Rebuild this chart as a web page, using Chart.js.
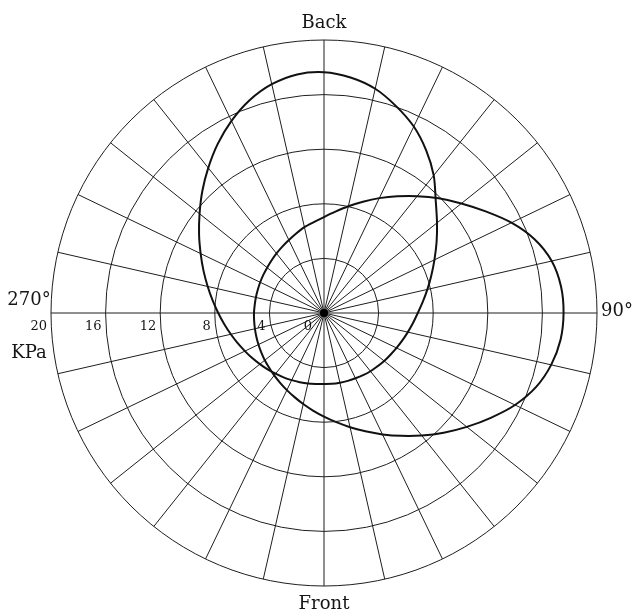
<!DOCTYPE html>
<html>
<head>
<meta charset="utf-8">
<script src="https://cdn.jsdelivr.net/npm/chart.js@4/dist/chart.umd.min.js"></script>
<style>
  html, body { margin: 0; padding: 0; background: #fff; }
  canvas { display: block; }
</style>
</head>
<body>
<canvas id="polar" width="633" height="614"></canvas>
<script>
// Bearings around the plot, clockwise from Back (0°); a spoke is drawn on every second one.
const bearings = Array.from({ length: 56 }, (_, i) => (i * 360 / 56).toFixed(1) + '°');

// Pressure (KPa) at each bearing — elongated lobe toward Back.
const backLobe = [
  17.64, 17.36, 16.85, 16.04, 15.16, 14.07, 12.89, 11.58,
  10.59,  9.74,  8.98,  8.33,  7.77,  7.28,  6.87,  6.56,
   6.30,  6.08,  5.90,  5.75,  5.64,  5.53,  5.46,  5.38,
   5.31,  5.27,  5.24,  5.22,  5.20,  5.23,  5.30,  5.37,
   5.46,  5.57,  5.69,  5.84,  6.01,  6.21,  6.43,  6.70,
   7.00,  7.35,  7.75,  8.21,  8.74,  9.35, 10.03, 10.81,
  11.66, 12.61, 13.60, 14.63, 15.62, 16.51, 17.19, 17.59
];

// Pressure (KPa) at each bearing — lobe toward 90°.
const sideLobe = [
   7.03,  7.47,  8.02,  8.64,  9.34, 10.10, 10.95, 11.88,
  12.87, 13.99, 15.24, 16.34, 17.11, 17.47, 17.55, 17.44,
  17.07, 16.45, 15.53, 14.43, 13.38, 12.40, 11.48, 10.63,
   9.87,  9.18,  8.58,  8.05,  7.59,  7.19,  6.84,  6.53,
   6.27,  6.04,  5.85,  5.68,  5.55,  5.43,  5.33,  5.25,
   5.19,  5.15,  5.13,  5.11,  5.12,  5.14,  5.19,  5.25,
   5.33,  5.44,  5.58,  5.74,  5.93,  6.17,  6.45,  6.70
];

const radialTicks = [0, 4, 8, 12, 16, 20];
const directionLabels = { top: 'Back', right: '90°', bottom: 'Front', left: '270°' };
const unitLabel = 'KPa';

const SERIF = '"DejaVu Serif", "Liberation Serif", serif';
const INK = '#151515';

// Hub dot, scale numbers along the 270° axis, and the direction captions.
const annotations = {
  id: 'annotations',
  afterDatasetsDraw(chart) {
    const s = chart.scales.r;
    const ctx = chart.ctx;
    const cx = s.xCenter, cy = s.yCenter, R = s.drawingArea;
    ctx.save();

    ctx.fillStyle = '#000';
    ctx.beginPath();
    ctx.arc(cx, cy, 4, 0, Math.PI * 2);
    ctx.fill();

    ctx.fillStyle = INK;
    ctx.font = '13px ' + SERIF;
    ctx.textAlign = 'right';
    ctx.textBaseline = 'alphabetic';
    radialTicks.forEach(v => {
      const d = s.getDistanceFromCenterForValue(v);
      const gap = v === 0 ? 12 : 4;
      ctx.fillText(String(v), cx - d - gap, cy + 17);
    });

    ctx.font = '18px ' + SERIF;
    ctx.textAlign = 'center';
    ctx.fillText(directionLabels.top, cx, cy - R - 12);
    ctx.fillText(directionLabels.bottom, cx, cy + R + 23);
    ctx.fillText(directionLabels.left, cx - R - 22, cy - 8);
    ctx.fillText(unitLabel, cx - R - 22, cy + 45);
    ctx.textAlign = 'left';
    ctx.textBaseline = 'middle';
    ctx.fillText(directionLabels.right, cx + R + 4, cy - 2);
    ctx.restore();
  }
};

new Chart(document.getElementById('polar'), {
  type: 'radar',
  data: {
    labels: bearings,
    datasets: [
      { data: backLobe },
      { data: sideLobe }
    ]
  },
  options: {
    responsive: false,
    animation: false,
    layout: { padding: { left: 51, right: 36, top: 40, bottom: 28 } },
    plugins: { legend: { display: false }, tooltip: { enabled: false } },
    elements: {
      line: { borderColor: '#111', borderWidth: 2, fill: false, tension: 0.3 },
      point: { radius: 0, hoverRadius: 0 }
    },
    scales: {
      r: {
        min: 0,
        max: 20,
        startAngle: 0,
        ticks: { display: false, stepSize: 4 },
        pointLabels: { display: false },
        grid: { circular: true, color: '#1e1e1e', lineWidth: 1 },
        angleLines: {
          color: '#1e1e1e',
          lineWidth: (c) => (c.index % 2 === 0 ? 1 : 0)
        }
      }
    }
  },
  plugins: [annotations]
});
</script>
</body>
</html>
